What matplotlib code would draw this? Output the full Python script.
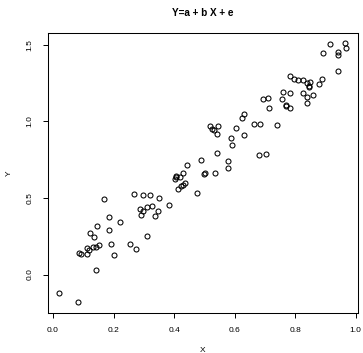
import numpy as np
import matplotlib
matplotlib.use("Agg")
from matplotlib import pyplot as plt

plt.rcParams['font.family'] = ['Liberation Sans', 'DejaVu Sans']

# points
x = [0.916, 0.966, 0.970, 0.893, 0.941, 0.941, 0.943, 0.782, 0.796, 0.811,
     0.828, 0.840, 0.851, 0.845, 0.847, 0.888, 0.879, 0.759, 0.784, 0.825,
     0.840, 0.861, 0.693, 0.710, 0.756, 0.771, 0.771, 0.782, 0.840, 0.713,
     0.632, 0.626, 0.663, 0.683, 0.740, 0.518, 0.527, 0.533, 0.545, 0.541,
     0.604, 0.631, 0.587, 0.592, 0.542, 0.680, 0.705, 0.490, 0.442, 0.579,
     0.579, 0.503, 0.498, 0.534, 0.431, 0.408, 0.406, 0.419, 0.402, 0.436,
     0.431, 0.424, 0.413, 0.477, 0.269, 0.298, 0.322, 0.350, 0.169, 0.382,
     0.326, 0.310, 0.287, 0.299, 0.346, 0.291, 0.337, 0.184, 0.221, 0.144,
     0.186, 0.122, 0.135, 0.309, 0.111, 0.131, 0.142, 0.153, 0.120, 0.087,
     0.091, 0.111, 0.190, 0.253, 0.274, 0.202, 0.143, 0.021, 0.083]
y = [1.505, 1.510, 1.483, 1.446, 1.452, 1.431, 1.332, 1.295, 1.277, 1.271,
     1.269, 1.251, 1.260, 1.231, 1.223, 1.280, 1.245, 1.192, 1.184, 1.184,
     1.159, 1.172, 1.146, 1.153, 1.149, 1.110, 1.098, 1.085, 1.123, 1.085,
     1.050, 1.024, 0.985, 0.982, 0.980, 0.967, 0.950, 0.946, 0.972, 0.921,
     0.954, 0.913, 0.895, 0.847, 0.795, 0.782, 0.790, 0.751, 0.713, 0.740,
     0.694, 0.664, 0.657, 0.664, 0.661, 0.646, 0.637, 0.635, 0.624, 0.595,
     0.587, 0.576, 0.559, 0.532, 0.523, 0.521, 0.517, 0.500, 0.493, 0.456,
     0.449, 0.438, 0.428, 0.416, 0.416, 0.388, 0.382, 0.377, 0.342, 0.318,
     0.290, 0.270, 0.244, 0.254, 0.176, 0.180, 0.180, 0.195, 0.159, 0.139,
     0.132, 0.132, 0.202, 0.198, 0.169, 0.128, 0.031, -0.119, -0.182]

xticks = [0.0, 0.2, 0.4, 0.6, 0.8, 1.0]
yticks = [0.0, 0.5, 1.0, 1.5]

fig = plt.figure(figsize=(3.63, 3.53), dpi=100)
ax = fig.add_axes([0.132, 0.114, 0.854, 0.7925])
ax.plot(x, y, 'o', mfc='none', mec='black', ms=3.6, mew=0.75)

# R style 4% padding
xr = max(x) - min(x)
yr = max(y) - min(y)
ax.set_xlim(min(x) - 0.04 * xr, max(x) + 0.04 * xr)
ax.set_ylim(min(y) - 0.04 * yr, max(y) + 0.04 * yr)

ax.set_xticks(xticks)
ax.set_xticklabels(['%.1f' % v for v in xticks])
ax.set_yticks(yticks)
ax.set_yticklabels(['%.1f' % v for v in yticks], rotation=90, va='center')
ax.tick_params(direction='out', length=3.3, width=0.7, labelsize=6, pad=7)
for s in ax.spines.values():
    s.set_linewidth(0.75)

ax.set_xlabel('X', fontsize=6, labelpad=9)
ax.set_ylabel('Y', fontsize=6, labelpad=10)
ax.set_title('Y=a + b X + e', fontsize=7.2, fontweight='bold', pad=12)

fig.savefig('out.png', dpi=100)
